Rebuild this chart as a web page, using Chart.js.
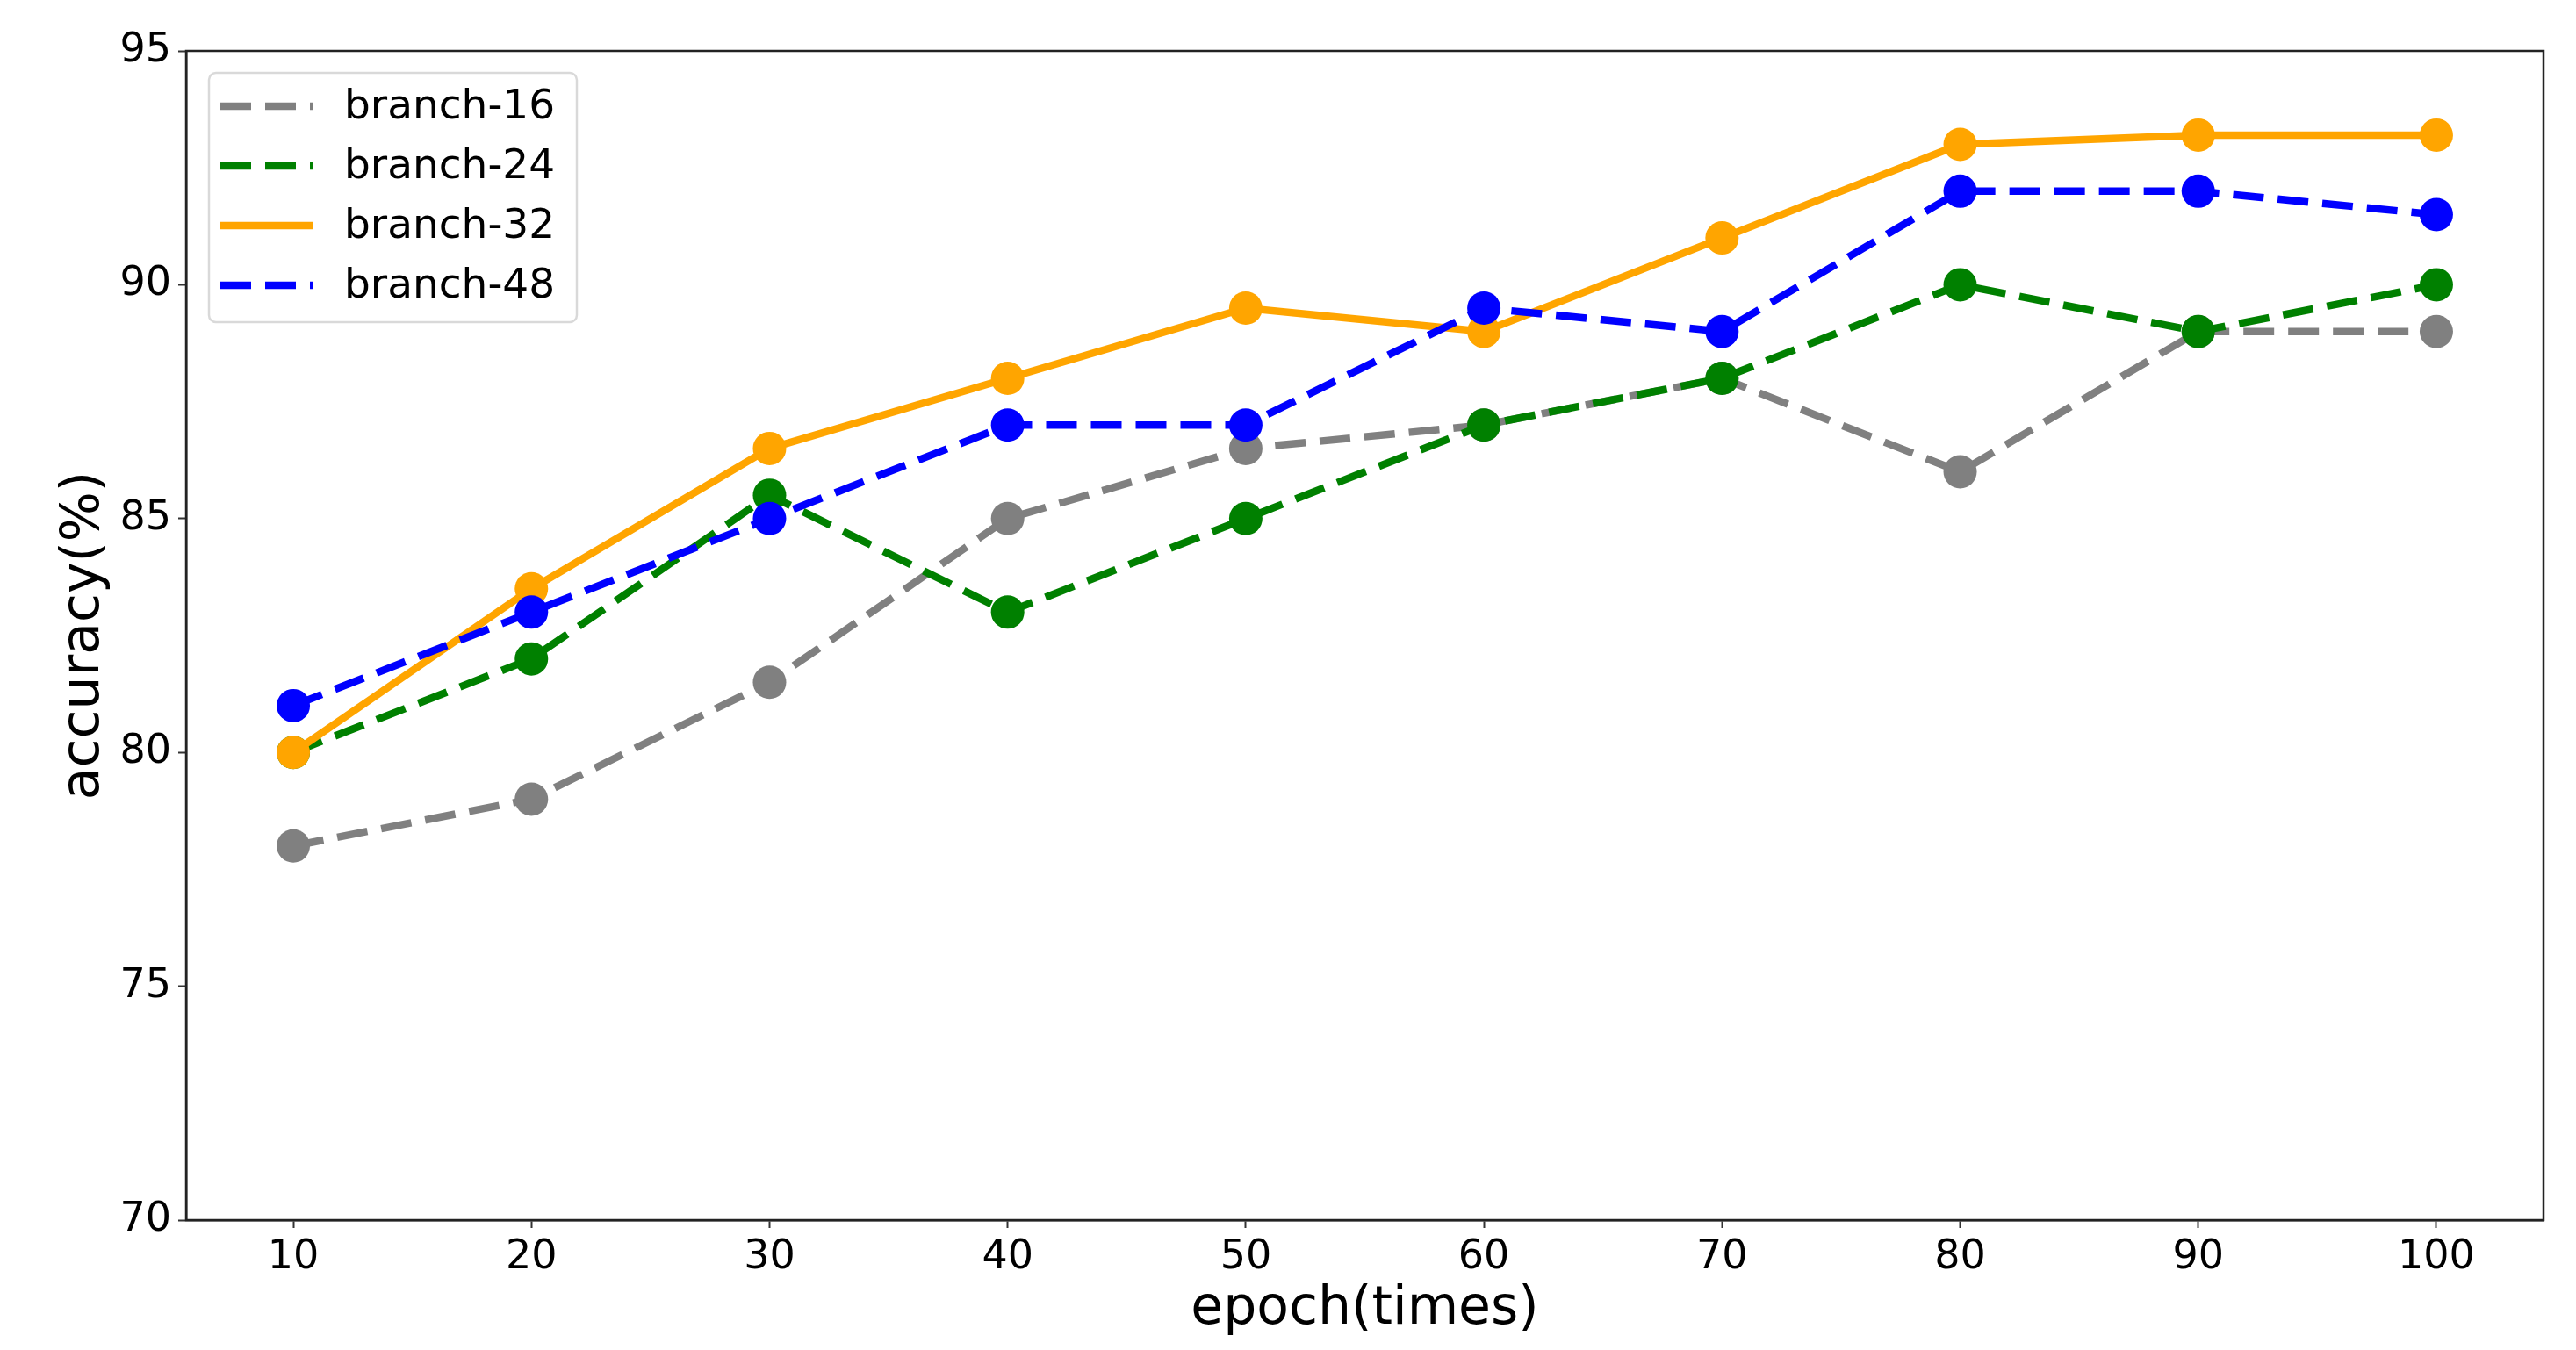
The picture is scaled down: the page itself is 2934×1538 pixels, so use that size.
<!DOCTYPE html>
<html>
<head>
<meta charset="utf-8">
<script src="https://cdn.jsdelivr.net/npm/chart.js@4.4.0/dist/chart.umd.min.js"></script>
<style>
  html, body { margin: 0; padding: 0; background: #fff; }
</style>
</head>
<body>
<canvas id="accuracyChart" width="2934" height="1538"></canvas>
<script>
// values
const epochs = [10, 20, 30, 40, 50, 60, 70, 80, 90, 100];
const branch16 = [78, 79, 81.5, 85, 86.5, 87, 88, 86, 89, 89];
const branch24 = [80, 82, 85.5, 83, 85, 87, 88, 90, 89, 90];
const branch32 = [80, 83.5, 86.5, 88, 89.5, 89, 91, 93, 93.2, 93.2];
const branch48 = [81, 83, 85, 87, 87, 89.5, 89, 92, 92, 91.5];
const xTicks = [10, 20, 30, 40, 50, 60, 70, 80, 90, 100];
const yTicks = [70, 75, 80, 85, 90, 95];

const FONT = "'DejaVu Sans', sans-serif";

function toPoints(values) {
    return epochs.map((e, i) => ({ x: e, y: values[i] }));
}

function series(label, values, color, dashed, order) {
    return {
        label: label,
        data: toPoints(values),
        borderColor: color,
        backgroundColor: color,
        borderWidth: 8.5,
        borderDash: dashed ? [35, 16] : [],
        pointRadius: 19,
        pointHoverRadius: 19,
        pointBorderWidth: 0,
        pointBackgroundColor: color,
        tension: 0,
        fill: false,
        order: order
    };
}

// box around the whole plot area (matplotlib style spines)
const frame = {
    id: 'frame',
    afterDatasetsDraw(chart) {
        const { ctx, chartArea: a } = chart;
        ctx.save();
        ctx.strokeStyle = '#222';
        ctx.lineWidth = 2.5;
        ctx.strokeRect(a.left, a.top, a.right - a.left, a.bottom - a.top);
        ctx.restore();
    }
};

// legend drawn inside the plot, upper left
const innerLegend = {
    id: 'innerLegend',
    afterDraw(chart) {
        const { ctx, chartArea: a } = chart;
        const x0 = a.left + 26, y0 = a.top + 25, w = 419, h = 284, r = 8;
        ctx.save();
        ctx.beginPath();
        ctx.moveTo(x0 + r, y0);
        ctx.arcTo(x0 + w, y0, x0 + w, y0 + h, r);
        ctx.arcTo(x0 + w, y0 + h, x0, y0 + h, r);
        ctx.arcTo(x0, y0 + h, x0, y0, r);
        ctx.arcTo(x0, y0, x0 + w, y0, r);
        ctx.closePath();
        ctx.fillStyle = 'rgba(255,255,255,0.8)';
        ctx.fill();
        ctx.strokeStyle = '#d9d9d9';
        ctx.lineWidth = 2.5;
        ctx.stroke();

        chart.data.datasets.forEach((ds, i) => {
            const cy = y0 + 38 + i * 68;
            ctx.beginPath();
            ctx.strokeStyle = ds.borderColor;
            ctx.lineWidth = ds.borderWidth;
            ctx.lineCap = 'butt';
            ctx.setLineDash(ds.borderDash || []);
            ctx.moveTo(x0 + 13, cy);
            ctx.lineTo(x0 + 118, cy);
            ctx.stroke();
            ctx.setLineDash([]);
            ctx.fillStyle = '#000';
            ctx.font = '47px ' + FONT;
            ctx.textBaseline = 'middle';
            ctx.textAlign = 'left';
            ctx.fillText(ds.label, x0 + 154, cy + 2);
        });
        ctx.restore();
    }
};

const ctx = document.getElementById('accuracyChart').getContext('2d');
new Chart(ctx, {
    type: 'line',
    data: {
        datasets: [
            series('branch-16', branch16, '#808080', true, 4),
            series('branch-24', branch24, '#008000', true, 3),
            series('branch-32', branch32, '#FFA500', false, 2),
            series('branch-48', branch48, '#0000FF', true, 1)
        ]
    },
    options: {
        responsive: false,
        devicePixelRatio: 1,
        animation: false,
        layout: { padding: { left: 0, right: 37, top: 58, bottom: 0 } },
        plugins: {
            legend: { display: false },
            tooltip: { enabled: false }
        },
        scales: {
            x: {
                type: 'linear',
                position: 'bottom',
                min: 5.5,
                max: 104.5,
                afterBuildTicks: s => { s.ticks = xTicks.map(v => ({ value: v })); },
                afterFit: s => { s.height = 148; },
                ticks: {
                    font: { family: FONT, size: 46 },
                    color: '#000',
                    padding: 6,
                    maxRotation: 0,
                    autoSkip: false
                },
                grid: {
                    drawOnChartArea: false,
                    drawTicks: true,
                    tickLength: 9,
                    tickWidth: 2,
                    tickColor: '#333'
                },
                border: { display: true, color: '#222', width: 2.5 },
                title: {
                    display: true,
                    text: 'epoch(times)',
                    color: '#000',
                    font: { family: FONT, size: 60 },
                    padding: { top: 0, bottom: 10 }
                }
            },
            y: {
                type: 'linear',
                min: 70,
                max: 95,
                afterBuildTicks: s => { s.ticks = yTicks.map(v => ({ value: v })); },
                afterFit: s => { s.width = 212; },
                ticks: {
                    font: { family: FONT, size: 46 },
                    color: '#000',
                    padding: 8
                },
                grid: {
                    drawOnChartArea: false,
                    drawTicks: true,
                    tickLength: 9,
                    tickWidth: 2,
                    tickColor: '#333'
                },
                border: { display: true, color: '#222', width: 2.5 },
                title: {
                    display: true,
                    text: 'accuracy(%)',
                    color: '#000',
                    font: { family: FONT, size: 60 },
                    padding: { top: 60, bottom: 0 }
                }
            }
        }
    },
    plugins: [frame, innerLegend]
});
</script>
</body>
</html>
